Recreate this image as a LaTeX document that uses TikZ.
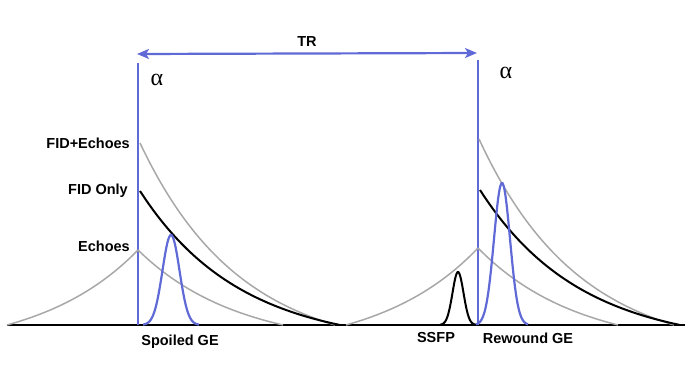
\documentclass[tikz,border=0pt]{standalone}
\usepackage{fontspec}
\setmainfont{Liberation Sans}
\newfontfamily\greekfont{Liberation Serif}
\usetikzlibrary{arrows.meta, positioning}

\definecolor{pulseblue}{RGB}{96,106,214}
\definecolor{echogray}{RGB}{168,168,168}

\begin{document}
\begin{tikzpicture}[
  x=1pt, y=1pt,
  >={Stealth[length=12pt, width=10pt, inset=3pt]},
  declare function={
    relax(\x,\z) = (exp(-\x/100)-exp(-\z/100))/(1-exp(-\z/100));
    bump(\x,\z)  = exp(-(\x*\x)/(2*\z*\z));
  },
  axis/.style={line width=2.4pt, black},
  rf/.style={line width=2.2pt, pulseblue},
  fid/.style={line width=2pt, black},
  echo/.style={line width=1.5pt, echogray},
  lbl/.style={font=\bfseries\fontsize{14.5}{16}\selectfont, inner sep=0pt},
  flip/.style={font=\greekfont\fontsize{24}{26}\selectfont, inner sep=0pt},
]
  \useasboundingbox (0,0) rectangle (690,365);

  % -------------------------------------------------------
  %  Baseline and RF pulses
  % -------------------------------------------------------
  \coordinate (axL) at (7,40);
  \coordinate (axR) at (685,40);
  \draw[axis] (axL) -- (axR);

  \coordinate (rfLtop) at (138,302);
  \coordinate (rfLbot) at (138,40);
  \coordinate (rfRtop) at (478,305);
  \coordinate (rfRbot) at (478,40);
  \draw[rf] (rfLbot) -- (rfLtop);
  \draw[rf] (rfRbot) -- (rfRtop);

  \node[flip] (alphaL) at (157,285) {α};
  \node[flip] (alphaR) at (506,292) {α};

  % -------------------------------------------------------
  %  Repetition time
  % -------------------------------------------------------
  \coordinate (trL) at (137,311);
  \coordinate (trR) at (477,312);
  \draw[rf, <->] (trL) -- (trR);
  \node[lbl] (tr) at (307,323) {TR};

  % -------------------------------------------------------
  %  First interval
  % -------------------------------------------------------
  \coordinate (sumL)  at (140,222);
  \coordinate (fidL)  at (140,174);
  \coordinate (echoL) at (138,115);

  \draw[echo] plot[smooth, domain=0:195, samples=60]
    ({140+\x}, {40+182*relax(\x,195)});
  \draw[fid] plot[smooth, domain=0:200, samples=60]
    ({140+\x}, {40+134*relax(\x,200)});
  \draw[echo] plot[smooth, domain=0:145, samples=50]
    ({138+\x}, {40+75*relax(\x,145)});
  \draw[echo] plot[smooth, domain=0:131, samples=50]
    ({138-\x}, {40+75*relax(\x,131)});
  \draw[rf] plot[smooth, domain=-28:28, samples=50]
    ({171+\x}, {40+90*bump(\x,8.5)});

  \node[lbl, left=10pt of sumL, anchor=east] (sumlbl) {FID+Echoes};
  \node[lbl, left=12pt of fidL, anchor=east] (fidlbl) {FID Only};
  \node[lbl, left=8pt of echoL, anchor=east, yshift=4pt] (echolbl) {Echoes};
  \node[lbl] (spoiled) at (180,23) {Spoiled GE};

  % -------------------------------------------------------
  %  Second interval
  % -------------------------------------------------------
  \draw[echo] plot[smooth, domain=0:195, samples=60]
    ({479+\x}, {40+186*relax(\x,195)});
  \draw[fid] plot[smooth, domain=0:200, samples=60]
    ({480+\x}, {40+135*relax(\x,200)});
  \draw[echo] plot[smooth, domain=0:140, samples=50]
    ({478+\x}, {40+77*relax(\x,140)});
  \draw[echo] plot[smooth, domain=0:132, samples=50]
    ({478-\x}, {40+77*relax(\x,132)});
  \draw[fid] plot[smooth, domain=-18:18, samples=40]
    ({458+\x}, {40+53*bump(\x,5.5)});
  \draw[rf] plot[smooth, domain=-26:26, samples=50]
    ({502+\x}, {40+142*bump(\x,8)});

  \node[lbl] (ssfp)    at (436,27) {SSFP};
  \node[lbl] (rewound) at (528,27) {Rewound GE};

\end{tikzpicture}
\end{document}
